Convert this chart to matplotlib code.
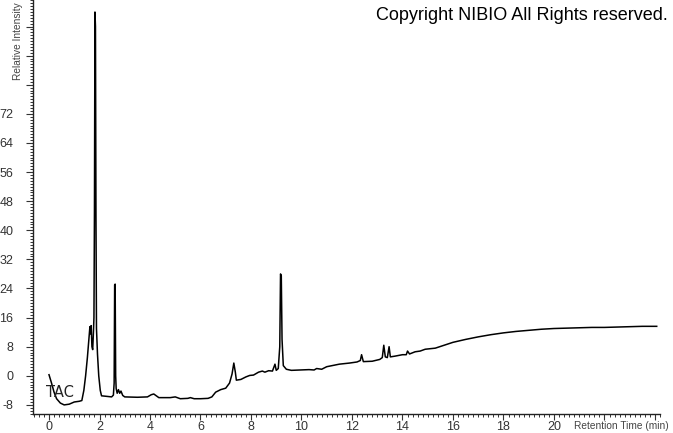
import matplotlib
matplotlib.use("Agg")
import matplotlib.pyplot as plt
from matplotlib.ticker import MultipleLocator, FuncFormatter

# Retention time (min) and relative intensity
time_min = [0.00, 0.10, 0.20, 0.30, 0.45, 0.60, 0.80, 1.00, 1.20, 1.30, 1.38, 1.45,
            1.52, 1.58, 1.62, 1.65, 1.67, 1.70, 1.73, 1.76, 1.78, 1.80, 1.82, 1.84,
            1.86, 1.88, 1.92, 1.97, 2.03, 2.08, 2.20, 2.35, 2.48, 2.55, 2.58, 2.60,
            2.62, 2.64, 2.66, 2.70, 2.75, 2.80, 2.85, 2.92, 3.00, 3.50, 3.90, 4.05,
            4.15, 4.25, 4.35, 4.80, 5.00, 5.20, 5.50, 5.60, 5.75, 6.00, 6.30, 6.45,
            6.60, 6.80, 7.00, 7.15, 7.25, 7.32, 7.38, 7.42, 7.60, 7.80, 7.95, 8.10,
            8.30, 8.45, 8.55, 8.70, 8.85, 8.95, 9.00, 9.08, 9.14, 9.17, 9.20, 9.23,
            9.28, 9.40, 9.60, 10.00, 10.30, 10.50, 10.60, 10.80, 11.00, 11.50, 11.90,
            12.20, 12.33, 12.38, 12.45, 12.80, 13.10, 13.20, 13.26, 13.32, 13.40,
            13.47, 13.52, 13.70, 14.00, 14.15, 14.20, 14.28, 14.50, 14.70, 14.90,
            15.30, 16.00, 16.50, 17.00, 17.50, 18.00, 18.50, 19.00, 19.50, 20.00,
            20.50, 21.00, 21.50, 22.00, 22.50, 23.00, 23.50, 24.07]
intensity = [0.3, -2.0, -4.5, -6.3, -7.5, -8.0, -7.8, -7.2, -7.0, -6.8, -4.0, 0.0,
             5.0, 10.0, 13.5, 11.5, 13.8, 8.0, 7.2, 12.0, 16.0, 45.0, 100.0, 96.0,
             44.0, 13.0, 6.0, 0.0, -4.0, -5.5, -5.6, -5.7, -5.8, -5.3, -2.0, 25.0,
             25.2, 0.0, -3.5, -4.8, -3.8, -4.8, -4.2, -5.4, -5.8, -5.9, -5.8, -5.2,
             -5.0, -5.5, -6.0, -6.0, -5.8, -6.3, -6.2, -6.0, -6.3, -6.3, -6.2, -5.8,
             -4.5, -3.8, -3.4, -2.0, 0.5, 3.5, 1.0, -1.2, -1.0, -0.3, 0.1, 0.2,
             1.0, 1.3, 1.0, 1.4, 1.3, 3.2, 1.5, 2.0, 8.0, 28.0, 27.5, 10.0,
             2.8, 1.8, 1.5, 1.6, 1.7, 1.6, 2.0, 1.8, 2.5, 3.2, 3.5,
             3.8, 4.2, 5.8, 3.9, 4.0, 4.5, 5.0, 8.4, 5.2, 5.0,
             8.0, 5.2, 5.4, 5.8, 5.8, 6.8, 6.0, 6.6, 6.8, 7.3,
             7.6, 9.2, 10.0, 10.7, 11.3, 11.8, 12.2, 12.5, 12.8, 13.0,
             13.1, 13.2, 13.3, 13.3, 13.4, 13.5, 13.6, 13.6]

x_major = 2
y_label_max = 72

fig = plt.figure(figsize=(6.73, 4.33), dpi=100)
ax = fig.add_axes([33 / 673, 19 / 433, (660 - 33) / 673, (414) / 433])
ax.plot(time_min, intensity, color="black", lw=1.1)

ax.set_xlim(-0.634, 24.2)
ax.set_ylim(-10.5, 103.3)

for s in ["top", "right"]:
    ax.spines[s].set_visible(False)
for s in ["left", "bottom"]:
    ax.spines[s].set_color("#222222")
    ax.spines[s].set_linewidth(1.0)

ax.xaxis.set_major_locator(MultipleLocator(x_major))
ax.xaxis.set_minor_locator(MultipleLocator(0.2))
ax.yaxis.set_major_locator(MultipleLocator(8))
ax.yaxis.set_minor_locator(MultipleLocator(0.8))
ax.xaxis.set_major_formatter(FuncFormatter(lambda v, p: "%d" % round(v) if v <= 20.5 else ""))
ax.yaxis.set_major_formatter(FuncFormatter(lambda v, p: "%d" % round(v) if v <= y_label_max + 0.5 else ""))

ax.tick_params(which="major", width=0.8, color="#333333", labelsize=9,
               labelcolor="#333333", direction="out")
ax.tick_params(which="minor", width=0.7, color="#333333", direction="out")
ax.tick_params(axis="y", which="major", length=5, pad=9)
ax.tick_params(axis="y", which="minor", length=2.5)
ax.tick_params(axis="x", which="major", length=4, pad=1)
ax.tick_params(axis="x", which="minor", length=2)

for lab in ax.get_xticklabels() + ax.get_yticklabels():
    lab.set_fontfamily("Liberation Sans")

ax.text(-0.1, -4.7, "TAC", fontsize=10.5, color="#222222", va="center", ha="left",
        family="DejaVu Sans")

fig.text(376 / 673, 1 - 15 / 433, "Copyright NIBIO All Rights reserved.",
         fontsize=13, family="Liberation Sans", ha="left", va="center", color="black")
fig.text(18 / 673, 1 - 80 / 433, "Relative Intensity", rotation=90, fontsize=7.3,
         family="Liberation Sans", ha="center", va="bottom", color="#444444")
fig.text(574 / 673, 1 - 426 / 433, "Retention Time (min)", fontsize=7.3,
         family="Liberation Sans", ha="left", va="center", color="#444444")

fig.savefig("out.png", dpi=100)
